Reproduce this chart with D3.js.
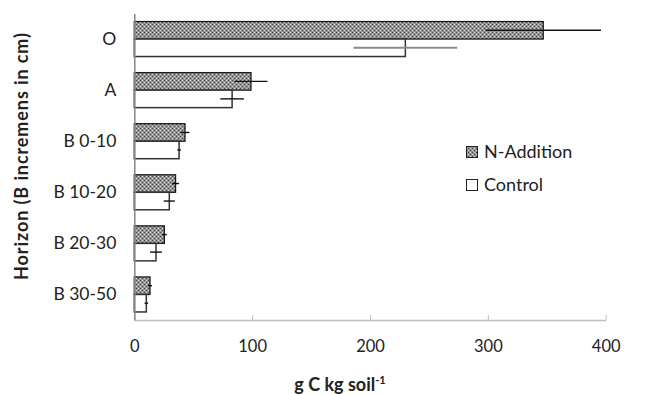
<!DOCTYPE html>
<html>
<head>
<meta charset="utf-8">
<script src="https://cdn.jsdelivr.net/npm/d3@7"></script>
<style>
  html, body { margin: 0; padding: 0; background: #fff; }
  svg { display: block; font-family: Lato, "Open Sans", sans-serif; }
</style>
</head>
<body>
<svg id="chart" width="646" height="395"></svg>
<script>
// values (g C per kg soil)
const horizons = ['O', 'A', 'B 0-10', 'B 10-20', 'B 20-30', 'B 30-50']
const nAddition = [347, 99, 43, 35, 25.5, 13.3]
const nAdditionErr = [49, 14, 3.7, 3, 2, 1.7]
const control = [230, 83, 38, 29.7, 18.4, 10.2]
const controlErr = [44, 10, 1.5, 4.7, 5, 1.5]
const xTicks = [0, 100, 200, 300, 400]

const svg = d3.select('#chart')

const plotLeft = 134.3, plotRight = 605.7, plotTop = 13.5, plotBottom = 320

let x = d3.scaleLinear().domain([0, 400]).range([plotLeft, plotRight])
let y = d3.scaleBand().domain(horizons).range([plotTop, plotBottom]).padding(0)
let ySub = d3.scaleBand().domain(['nAddition', 'control'])
  .range([0, y.bandwidth()]).paddingInner(0).paddingOuter(0.46)

// dotted grey fill for the N-Addition bars
let pat = svg.append('defs').append('pattern')
  .attr('id', 'dots')
  .attr('patternUnits', 'userSpaceOnUse')
  .attr('width', 4).attr('height', 4)
pat.append('rect').attr('width', 4).attr('height', 4).attr('fill', '#959595')
pat.append('rect').attr('x', 0).attr('y', 0).attr('width', 1).attr('height', 1).attr('fill', '#444')
pat.append('rect').attr('x', 2).attr('y', 2).attr('width', 1).attr('height', 1).attr('fill', '#444')
pat.append('rect').attr('x', 2).attr('y', 0).attr('width', 1).attr('height', 1).attr('fill', '#d4d4d4')
pat.append('rect').attr('x', 0).attr('y', 2).attr('width', 1).attr('height', 1).attr('fill', '#d4d4d4')

let rows = horizons.map((h, i) => ({
  h: h,
  n: nAddition[i], nErr: nAdditionErr[i],
  c: control[i], cErr: controlErr[i]
}))

// x axis
let xAxis = svg.append('g')
  .attr('transform', `translate(0,${plotBottom})`)
  .call(d3.axisBottom(x).tickValues(xTicks).tickSize(-5).tickSizeOuter(0).tickPadding(20))
xAxis.select('.domain').attr('stroke', '#bfbfbf').attr('stroke-width', 1.5)
xAxis.selectAll('.tick line').attr('stroke', '#bfbfbf')
xAxis.selectAll('.tick text')
  .attr('font-family', 'Lato, sans-serif')
  .attr('font-size', 16.5)
  .attr('fill', '#222')

// bars
let g = svg.append('g')
g.selectAll('rect.n')
  .data(rows)
  .enter().append('rect')
  .attr('class', 'n')
  .attr('x', x(0))
  .attr('y', d => y(d.h) + ySub('nAddition'))
  .attr('width', d => x(d.n) - x(0))
  .attr('height', ySub.bandwidth())
  .attr('fill', 'url(#dots)')
  .attr('stroke', '#1a1a1a')
  .attr('stroke-width', 1.3)

g.selectAll('rect.c')
  .data(rows)
  .enter().append('rect')
  .attr('class', 'c')
  .attr('x', x(0))
  .attr('y', d => y(d.h) + ySub('control'))
  .attr('width', d => x(d.c) - x(0))
  .attr('height', ySub.bandwidth())
  .attr('fill', '#fff')
  .attr('stroke', '#333')
  .attr('stroke-width', 1.5)

// error bars
g.selectAll('line.ne')
  .data(rows)
  .enter().append('line')
  .attr('x1', d => x(d.n - d.nErr))
  .attr('x2', d => x(d.n + d.nErr))
  .attr('y1', d => y(d.h) + ySub('nAddition') + ySub.bandwidth() / 2)
  .attr('y2', d => y(d.h) + ySub('nAddition') + ySub.bandwidth() / 2)
  .attr('stroke', '#111')
  .attr('stroke-width', 1.4)

g.selectAll('line.ce')
  .data(rows)
  .enter().append('line')
  .attr('x1', d => x(d.c - d.cErr))
  .attr('x2', d => x(d.c + d.cErr))
  .attr('y1', d => y(d.h) + ySub('control') + ySub.bandwidth() / 2)
  .attr('y2', d => y(d.h) + ySub('control') + ySub.bandwidth() / 2)
  .attr('stroke', (d, i) => i === 0 ? '#8c8c8c' : '#111')
  .attr('stroke-width', (d, i) => i === 0 ? 2 : 1.4)

// y axis
let yAxis = svg.append('g')
  .attr('transform', `translate(${plotLeft},0)`)
  .call(d3.axisLeft(y).tickSize(0).tickPadding(18))
yAxis.select('.domain').attr('stroke', '#868686').attr('stroke-width', 1.5)
yAxis.selectAll('.tick text')
  .attr('font-family', 'Lato, sans-serif')
  .attr('font-size', 17.5)
  .attr('fill', '#222')

// titles
svg.append('text')
  .attr('x', 340).attr('y', 391)
  .attr('text-anchor', 'middle')
  .attr('font-size', 18)
  .attr('font-weight', 'bold')
  .attr('fill', '#222')
  .text('g C kg soil')
  .append('tspan')
  .attr('dy', -7)
  .attr('font-size', 11)
  .text('-1')

svg.append('text')
  .attr('transform', 'translate(28,156) rotate(-90)')
  .attr('text-anchor', 'middle')
  .attr('font-size', 18)
  .attr('font-weight', 'bold')
  .attr('letter-spacing', 0.9)
  .attr('fill', '#222')
  .text('Horizon (B incremens in cm)')

// legend
let legend = svg.append('g')
let items = [
  { label: 'N-Addition', fill: 'url(#dots)', y: 146.5 },
  { label: 'Control', fill: '#fff', y: 179.5 }
]
legend.selectAll('rect')
  .data(items)
  .enter().append('rect')
  .attr('x', 466.5).attr('y', d => d.y)
  .attr('width', 11).attr('height', 11)
  .attr('fill', d => d.fill)
  .attr('stroke', '#222')
  .attr('stroke-width', 1)
legend.selectAll('text')
  .data(items)
  .enter().append('text')
  .attr('x', 484).attr('y', d => d.y + 11)
  .attr('font-size', 18)
  .attr('fill', '#222')
  .text(d => d.label)
</script>
</body>
</html>
